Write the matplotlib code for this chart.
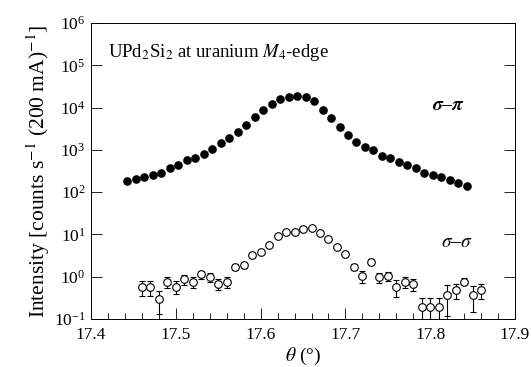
import matplotlib
matplotlib.use("Agg")
import matplotlib.pyplot as plt
from matplotlib.ticker import (LogFormatterMathtext, MultipleLocator, FixedLocator,
                               NullLocator, FormatStrFormatter)

plt.rcParams["font.family"] = ["Liberation Serif", "DejaVu Serif"]
plt.rcParams["mathtext.fontset"] = "stix"

# sigma-pi channel (filled circles)
theta_sp = [17.443, 17.453, 17.463, 17.473, 17.483, 17.493, 17.503, 17.513, 17.523, 17.533,
            17.543, 17.553, 17.563, 17.573, 17.583, 17.593, 17.603, 17.613, 17.623, 17.633,
            17.643, 17.653, 17.663, 17.673, 17.683, 17.693, 17.703, 17.713, 17.723, 17.733,
            17.743, 17.753, 17.763, 17.773, 17.783, 17.793, 17.803, 17.813, 17.823, 17.833,
            17.843]
int_sp = [187, 205, 225, 255, 280, 367, 447, 575, 655, 800,
          1050, 1430, 1880, 2700, 3880, 5900, 8770, 11970, 15700, 18100,
          19100, 17500, 14300, 8770, 5580, 3530, 2250, 1560, 1190, 995,
          718, 632, 526, 440, 367, 289, 255, 232, 194, 162,
          143]

# sigma-sigma channel (open circles with error bars)
theta_ss = [17.46, 17.47, 17.48, 17.49, 17.50, 17.51, 17.52, 17.53, 17.54, 17.55,
            17.56, 17.57, 17.58, 17.59, 17.60, 17.61, 17.62, 17.63, 17.64, 17.65,
            17.66, 17.67, 17.68, 17.69, 17.70, 17.71, 17.72, 17.73, 17.74, 17.75,
            17.76, 17.77, 17.78, 17.79, 17.80, 17.81, 17.82, 17.83, 17.84, 17.85,
            17.86]
int_ss = [0.58, 0.58, 0.29, 0.77, 0.58, 0.87, 0.77, 1.15, 0.97, 0.68,
          0.77, 1.73, 1.9, 3.27, 3.9, 5.6, 9.2, 11.5, 11.5, 13.8,
          14.5, 11.0, 7.8, 5.1, 3.5, 1.73, 1.05, 2.27, 0.97, 1.05,
          0.58, 0.77, 0.67, 0.197, 0.197, 0.197, 0.37, 0.49, 0.77, 0.37,
          0.49]
err_ss = [0.23, 0.23, 0.16, 0.24, 0.2, 0.22, 0.22, 0.25, 0.24, 0.2,
          0.22, 0.25, 0.25, 0.3, 0.3, 0.3, 0.4, 0.4, 0.4, 0.4,
          0.4, 0.4, 0.4, 0.3, 0.3, 0.3, 0.35, 0.3, 0.25, 0.25,
          0.24, 0.22, 0.22, 0.12, 0.12, 0.12, 0.25, 0.2, 0.15, 0.22,
          0.2]

fig = plt.figure(figsize=(5.31, 3.67), dpi=100)
ax = fig.add_axes([0.1714, 0.1308, 0.7986, 0.8065])

ax.plot(theta_sp, int_sp, "o", color="black", markersize=5.2, linestyle="none")
ax.errorbar(theta_ss, int_ss, yerr=err_ss, fmt="o", mfc="white", mec="black",
            ecolor="black", markersize=5.5, mew=0.8, elinewidth=0.8, capsize=2.5, capthick=0.8)

ax.set_yscale("log")
ax.set_xlim(17.4, 17.9)
ax.set_ylim(0.1, 1e6)
ax.xaxis.set_major_locator(MultipleLocator(0.1))
ax.xaxis.set_minor_locator(MultipleLocator(0.02))
ax.xaxis.set_major_formatter(FormatStrFormatter("%.1f"))
ax.yaxis.set_major_locator(FixedLocator([1e-1, 1e0, 1e1, 1e2, 1e3, 1e4, 1e5, 1e6]))
ax.yaxis.set_minor_locator(NullLocator())
ax.yaxis.set_major_formatter(LogFormatterMathtext())
ax.tick_params(axis="both", which="both", direction="in", labelsize=12.5)
ax.tick_params(axis="y", which="major", length=8, right=True, left=True, width=0.6, pad=4)
ax.tick_params(axis="x", which="major", length=8, width=0.6, pad=6)
ax.tick_params(axis="x", which="minor", length=4, width=0.6)
for s in ax.spines.values():
    s.set_linewidth(0.7)

ax.set_xlabel(r"$\theta$ (°)", fontsize=14, labelpad=2)
ax.set_ylabel(r"Intensity [counts s$^{-1}$ (200 mA)$^{-1}$]", fontsize=15.5, labelpad=1)

ax.text(0.04, 0.935, r"UPd$_2$Si$_2$ at uranium $M_4$-edge", transform=ax.transAxes,
        fontsize=13.5, va="top", ha="left")
ax.text(0.805, 0.722, r"$\boldsymbol{\sigma}$–$\boldsymbol{\pi}$", transform=ax.transAxes,
        fontsize=14, va="center", ha="left", fontweight="bold")
ax.text(0.825, 0.26, r"$\sigma$–$\sigma$", transform=ax.transAxes,
        fontsize=14, va="center", ha="left", fontweight="bold")

fig.savefig("out.png", dpi=100)
